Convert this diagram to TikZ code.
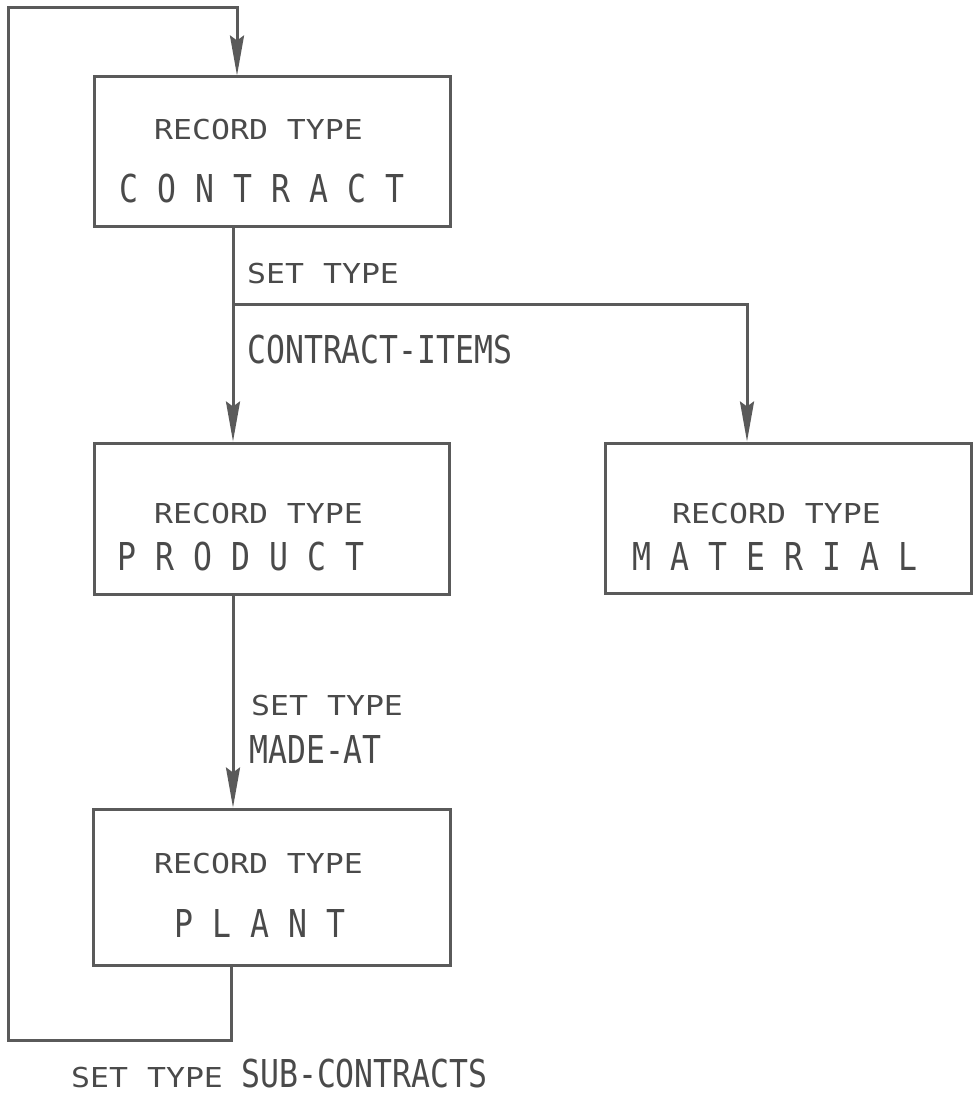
\documentclass[tikz,border=0pt]{standalone}
\usepackage{fontspec}
\usepackage{graphicx}
\usetikzlibrary{arrows.meta}
\newfontfamily\monof{DejaVu Sans Mono}
\newcommand\smallfont{\monof\fontsize{27.4pt}{30pt}\selectfont}
\newcommand\bigfont{\monof\fontsize{38.4pt}{42pt}\selectfont}
\newcommand\sm[1]{\scalebox{1.15}[1]{#1}}
\newcommand\bg[1]{\scalebox{0.82}[1]{#1}}
\newlength\lspw \setlength\lspw{38pt}
\def\lsp#1{\lspaux#1\relax}
\def\lspaux#1{\ifx#1\relax\else\makebox[\lspw]{\bg{#1}}\expandafter\lspaux\fi}
\definecolor{linegray}{HTML}{5A5A5A}
\definecolor{textgray}{HTML}{4A4A4A}
\tikzset{
  recbox/.style={draw=linegray, line width=3pt, minimum width=#1, inner sep=0pt, line join=miter},
  conn/.style={draw=linegray, line width=3pt, line join=miter, -{Stealth[length=40pt,width=14pt,inset=5pt]}},
  smalltxt/.style={font=\smallfont, text=textgray, inner sep=0pt, anchor=base west},
  bigtxt/.style={font=\bigfont, text=textgray, inner sep=0pt, anchor=base west},
  spacedtxt/.style={font=\bigfont, text=textgray, inner sep=0pt, anchor=base},
}
\begin{document}
\begin{tikzpicture}[x=1pt, y=-1pt]
\useasboundingbox[fill=white] (0,0) rectangle (977,1099);

% boxes
\node[recbox=356pt, minimum height=150pt] (contract) at (272,152) {};
\node[recbox=355pt, minimum height=151pt] (product) at (271.5,518.5) {};
\node[recbox=366pt, minimum height=150pt] (material) at (788,518) {};
\node[recbox=357pt, minimum height=156pt] (plant) at (271.5,887) {};

% box texts
\node[smalltxt] (contract-rt) at (154,140) {\sm{RECORD TYPE}};
\node[spacedtxt] (contract-nm) at (261.5,203) {\lsp{CONTRACT}};
\node[smalltxt] (product-rt) at (154,523) {\sm{RECORD TYPE}};
\node[spacedtxt] (product-nm) at (240.5,570) {\lsp{PRODUCT}};
\node[smalltxt] (material-rt) at (672,523) {\sm{RECORD TYPE}};
\node[spacedtxt] (material-nm) at (775,570) {\lsp{MATERIAL}};
\node[smalltxt] (plant-rt) at (154,873) {\sm{RECORD TYPE}};
\node[spacedtxt] (plant-nm) at (260,937) {\lsp{PLANT}};

% connector coordinates
\coordinate (split) at (233,304);
\coordinate (matin) at (747,304);
\coordinate (pl) at (231,1040);
\coordinate (lb) at (8,1040);
\coordinate (lt) at (8,8);
\coordinate (topx) at (237,8);

% connectors
\draw[conn] (contract.south -| split) -- (product.north -| split);
\draw[conn] (split) -- (matin) -- (material.north -| matin);
\draw[conn] (product.south -| split) -- (plant.north -| split);
\draw[conn] (plant.south -| pl) -- (pl) -- (lb) -- (lt) -- (topx) -- (contract.north -| topx);

% connector labels
\node[smalltxt] (set1) at (247,283) {\sm{SET TYPE}};
\node[bigtxt] (set1-nm) at (247,363) {\bg{CONTRACT-ITEMS}};
\node[smalltxt] (set2) at (251,715) {\sm{SET TYPE}};
\node[bigtxt] (set2-nm) at (249,763) {\bg{MADE-AT}};
\node[smalltxt] (set3) at (71,1087) {\sm{SET TYPE}};
\node[bigtxt] (set3-nm) at (241,1087) {\bg{SUB-CONTRACTS}};
\end{tikzpicture}
\end{document}
